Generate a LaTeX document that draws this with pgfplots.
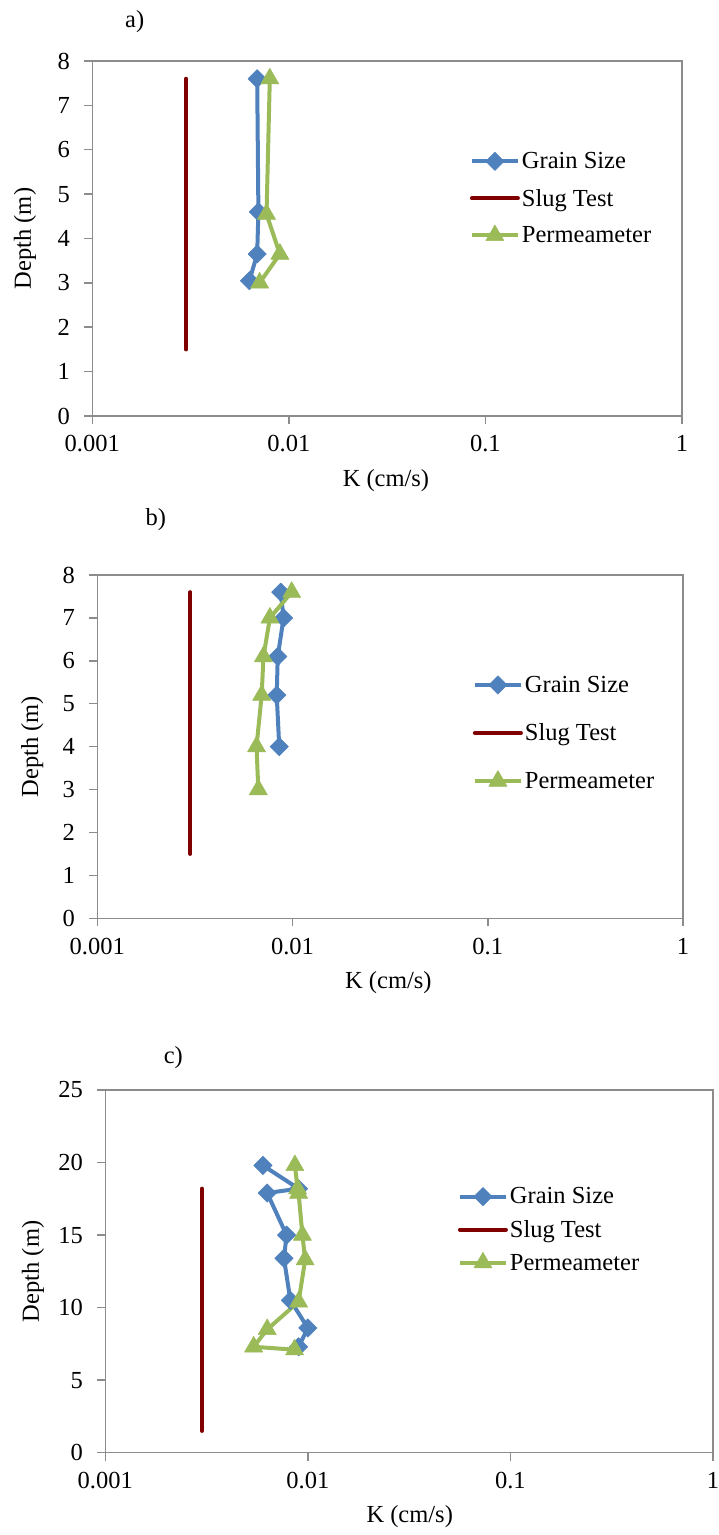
\documentclass[border=0pt]{standalone}
\usepackage{fontspec}
\setmainfont{Liberation Serif}
\usepackage{pgfplots}
\pgfplotsset{compat=1.18}
\definecolor{gsblue}{HTML}{4F81BD}
\definecolor{slugred}{HTML}{800000}
\definecolor{pmgreen}{HTML}{9BBB59}
\definecolor{axgray}{HTML}{8C8C8C}
\pgfplotsset{
  legend image code/.code={\draw[mark repeat=2,mark phase=2,#1] plot coordinates {(0pt,0pt) (23pt,0pt) (46pt,0pt)};},
  kaxis/.style={
    scale only axis,
    xmin=0.001, xmax=1,
    xtick={0.001,0.01,0.1,1}, xticklabels={0.001,0.01,0.1,1},
    xminorticks=false, yminorticks=false,
    xtick pos=bottom, ytick pos=left,
    tick align=outside, major tick length=8pt,
    axis line style={axgray, line width=1.5pt},
    every tick/.style={axgray, line width=1.5pt},
    /pgf/number format/assume math mode=true,
    font=\fontsize{24.5}{29}\selectfont,
    xticklabel style={yshift=-8pt},
    yticklabel style={xshift=-11pt},
    xlabel={K (cm/s)}, ylabel={Depth (m)},
    legend cell align=left,
    legend style={draw=none, fill=none, font=\fontsize{24.5}{29}\selectfont, anchor=west, inner sep=0pt},
    clip=false,
  },
  gs/.style={gsblue, line width=4pt, line join=round, mark=square*, mark size=6.5pt, mark options={rotate=45, line width=0.5pt, fill=gsblue, draw=gsblue}},
  sl/.style={slugred, line width=4pt, line cap=round, no marks},
  pm/.style={pmgreen, line width=4pt, line join=round, mark=triangle*, mark size=10.5pt, mark options={line width=0.5pt, fill=pmgreen, draw=pmgreen}},
}
\begin{document}
\begin{tikzpicture}
\useasboundingbox (0,0) rectangle (719pt,1535pt);
% ---------- a)
\begin{semilogxaxis}[kaxis, at={(92.3pt,1119pt)}, anchor=south west,
  width=589.7pt, height=355pt,
  ymin=0, ymax=8, ytick={0,1,...,8},
  title={a)}, title style={at={(axis description cs:0.072,1.094)}, anchor=center},
  xlabel style={at={(axis description cs:0.498,-0.181)}, anchor=center},
  ylabel style={at={(axis description cs:-0.114,0.5)}, anchor=center},
  legend style={at={(axis description cs:0.64,0.613)}, row sep=15pt},
]
\addplot[gs] coordinates {(0.0069,7.6) (0.0070,4.6) (0.0069,3.65) (0.0063,3.05)};
\addlegendentry{Grain Size}
\addplot[sl] coordinates {(0.003,1.5) (0.003,7.6)};
\addlegendentry{Slug Test}
\addplot[pm] coordinates {(0.0080,7.6) (0.0077,4.55) (0.0090,3.65) (0.0071,3.0)};
\addlegendentry{Permeameter}
\end{semilogxaxis}
% ---------- b)
\begin{semilogxaxis}[kaxis, at={(97.3pt,616.7pt)}, anchor=south west,
  width=585.7pt, height=343.3pt,
  ymin=0, ymax=8, ytick={0,1,...,8},
  title={b)}, title style={at={(axis description cs:0.1,1.1425)}, anchor=center},
  xlabel style={at={(axis description cs:0.497,-0.186)}, anchor=center},
  ylabel style={at={(axis description cs:-0.111,0.5)}, anchor=center},
  legend style={at={(axis description cs:0.641,0.54)}, row sep=26pt},
]
\addplot[gs] coordinates {(0.0087,7.6) (0.0090,7.0) (0.0084,6.1) (0.0083,5.2) (0.00855,4.0)};
\addlegendentry{Grain Size}
\addplot[sl] coordinates {(0.003,1.5) (0.003,7.6)};
\addlegendentry{Slug Test}
\addplot[pm] coordinates {(0.0099,7.6) (0.00766,7.0) (0.0071,6.1) (0.00695,5.2) (0.00654,4.0) (0.00668,3.0)};
\addlegendentry{Permeameter}
\end{semilogxaxis}
% ---------- c)
\begin{semilogxaxis}[kaxis, at={(105.3pt,82.3pt)}, anchor=south west,
  width=607.7pt, height=362.7pt,
  ymin=0, ymax=25, ytick={0,5,...,25},
  title={c)}, title style={at={(axis description cs:0.112,1.074)}, anchor=center},
  xlabel style={at={(axis description cs:0.501,-0.177)}, anchor=center},
  ylabel style={at={(axis description cs:-0.119,0.5)}, anchor=center},
  legend style={at={(axis description cs:0.58,0.615)}, row sep=11pt},
]
\addplot[gs] coordinates {(0.0060,19.8) (0.0090,18.2) (0.0063,17.9) (0.00785,15.0) (0.00762,13.4) (0.0082,10.5) (0.0100,8.6) (0.0090,7.3)};
\addlegendentry{Grain Size}
\addplot[sl] coordinates {(0.003,1.5) (0.003,18.2)};
\addlegendentry{Slug Test}
\addplot[pm] coordinates {(0.00863,19.8) (0.0089,18.2) (0.0090,17.9) (0.0094,15.0) (0.0097,13.3) (0.0090,10.4) (0.0063,8.5) (0.0054,7.3) (0.0086,7.1)};
\addlegendentry{Permeameter}
\end{semilogxaxis}
\end{tikzpicture}
\end{document}
